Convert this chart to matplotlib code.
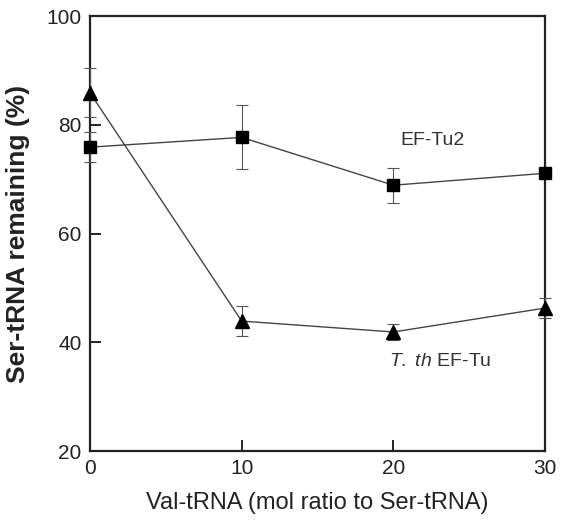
import matplotlib

matplotlib.use("Agg")
import matplotlib.pyplot as plt

# Data
val_ratio = [0, 10, 20, 30]
ef_tu2 = [75.9, 77.7, 68.9, 71.1]
ef_tu2_err = [2.8, 5.9, 3.2, 0.0]
tth_ef_tu = [85.9, 43.9, 41.9, 46.3]
tth_ef_tu_err = [4.5, 2.7, 1.5, 1.8]

plt.rcParams["font.family"] = ["Liberation Sans", "DejaVu Sans"]
plt.rcParams["mathtext.fontset"] = "custom"
plt.rcParams["mathtext.it"] = "Liberation Sans:italic"
plt.rcParams["mathtext.rm"] = "Liberation Sans"

fig = plt.figure(figsize=(5.66, 5.22), dpi=100)
ax = fig.add_axes([0.159, 0.136, 0.804, 0.833])

ax.errorbar(val_ratio, ef_tu2, yerr=ef_tu2_err, fmt="-", color="#444444",
            linewidth=1.0, elinewidth=0.8, ecolor="#555555", capsize=4, capthick=0.8,
            marker="s", markersize=8, markerfacecolor="black", markeredgecolor="black",
            clip_on=False, zorder=3)
ax.errorbar(val_ratio, tth_ef_tu, yerr=tth_ef_tu_err, fmt="-", color="#444444",
            linewidth=1.0, elinewidth=0.8, ecolor="#555555", capsize=4, capthick=0.8,
            marker="^", markersize=10, markerfacecolor="black", markeredgecolor="black",
            clip_on=False, zorder=3)

ax.text(22.6, 77.2, "EF-Tu2", fontsize=14, color="#333333",
        ha="center", va="center")
ax.text(23.1, 36.4, r"$\it{T.\ th}$ EF-Tu", fontsize=14, color="#333333",
        ha="center", va="center")

ax.set_xlim(0, 30)
ax.set_ylim(20, 100)
ax.set_xticks([0, 10, 20, 30])
ax.set_yticks([20, 40, 60, 80, 100])
ax.tick_params(direction="in", length=8, width=1.2, labelsize=15, pad=6,
               labelcolor="#222222")
for s in ax.spines.values():
    s.set_linewidth(1.6)
    s.set_color("#222222")

ax.set_xlabel("Val-tRNA (mol ratio to Ser-tRNA)", fontsize=17, color="#222222", labelpad=10)
ax.set_ylabel("Ser-tRNA remaining (%)", fontsize=19, fontweight="bold", color="#222222",
              labelpad=12)

fig.savefig("out.png", dpi=100)
